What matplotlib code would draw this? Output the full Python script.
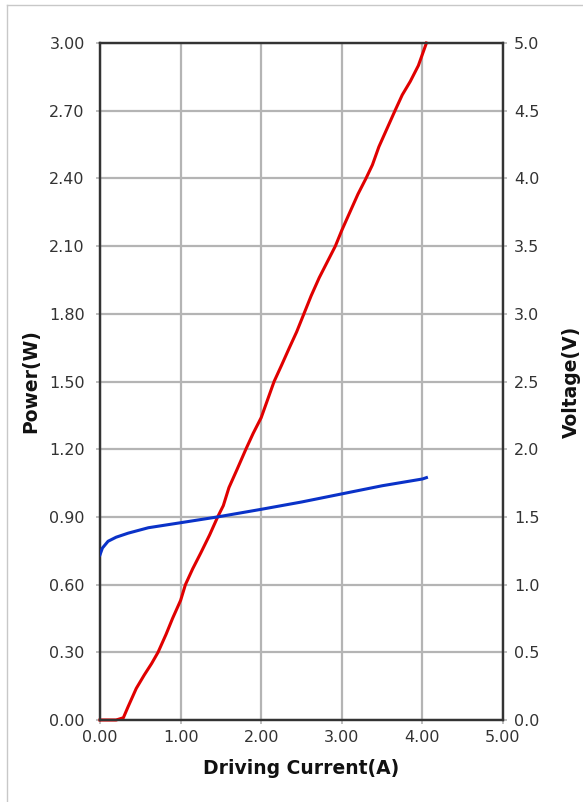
import matplotlib
matplotlib.use("Agg")
import matplotlib.pyplot as plt
from matplotlib.lines import Line2D

# Data
current_power = [0.0, 0.10, 0.20, 0.29, 0.35, 0.45, 0.55, 0.64, 0.72, 0.82, 0.90, 1.00,
                 1.06, 1.15, 1.25, 1.36, 1.46, 1.53, 1.60, 1.70, 1.81, 1.90, 2.00, 2.08,
                 2.16, 2.25, 2.35, 2.44, 2.53, 2.62, 2.72, 2.82, 2.92, 3.00, 3.10, 3.20,
                 3.30, 3.38, 3.46, 3.56, 3.66, 3.75, 3.85, 3.95, 4.00, 4.05]
power = [0.0, 0.0, 0.0, 0.01, 0.06, 0.14, 0.20, 0.25, 0.30, 0.38, 0.45, 0.53,
         0.60, 0.67, 0.74, 0.82, 0.90, 0.95, 1.03, 1.11, 1.20, 1.27, 1.34, 1.42,
         1.50, 1.57, 1.65, 1.72, 1.80, 1.88, 1.96, 2.03, 2.10, 2.17, 2.25, 2.33,
         2.40, 2.46, 2.54, 2.62, 2.70, 2.77, 2.83, 2.90, 2.95, 3.00]

current_voltage = [0.0, 0.03, 0.10, 0.20, 0.35, 0.60, 1.00, 1.46, 2.00, 2.50, 3.00, 3.50, 4.00, 4.05]
voltage = [1.22, 1.27, 1.32, 1.35, 1.38, 1.42, 1.457, 1.50, 1.556, 1.61, 1.67, 1.73, 1.78, 1.79]

x_ticks = [0, 1, 2, 3, 4, 5]
power_ticks = [0.0, 0.3, 0.6, 0.9, 1.2, 1.5, 1.8, 2.1, 2.4, 2.7, 3.0]
voltage_ticks = [0.0, 0.5, 1.0, 1.5, 2.0, 2.5, 3.0, 3.5, 4.0, 4.5, 5.0]

W, H = 583, 802
fig = plt.figure(figsize=(W / 100, H / 100), dpi=100)
ax = fig.add_axes([100 / W, 1 - 720 / H, 403 / W, 677 / H])
ax2 = ax.twinx()

grid_c = "#b4b4b4"
spine_c = "#333333"
tick_font = dict(family="DejaVu Sans", size=11.5, color="#333333")

ax.set_xlim(0, 5)
ax.set_ylim(0, 3.0)
ax2.set_ylim(0, 5.0)
ax.set_xticks(x_ticks)
ax.set_xticklabels([f"{v:.2f}" for v in x_ticks], **tick_font)
ax.set_yticks(power_ticks)
ax.set_yticklabels([f"{v:.2f}" for v in power_ticks], **tick_font)
ax2.set_yticks(voltage_ticks)
ax2.set_yticklabels([f"{v:.1f}" for v in voltage_ticks], **tick_font)

ax.grid(True, color=grid_c, linewidth=1.6)
ax.set_axisbelow(True)
for a in (ax, ax2):
    for s in a.spines.values():
        s.set_color(spine_c)
        s.set_linewidth(1.6)
ax.tick_params(axis="x", length=3, width=1.2, color=grid_c, pad=4)
ax.tick_params(axis="y", length=3, width=1.2, color=grid_c, pad=8)
ax2.tick_params(axis="y", length=3, width=1.2, color=grid_c, pad=5)

ax.plot(current_power, power, color="#e00000", linewidth=2.2, zorder=3, clip_on=False)
ax2.plot(current_voltage, voltage, color="#0a32c8", linewidth=2.2, zorder=3)

ax.set_xlabel("Driving Current(A)", family="DejaVu Sans", fontsize=13.5, fontweight="bold",
              color="#111111", labelpad=10)
ax.set_ylabel("Power(W)", family="DejaVu Sans", fontsize=13.5, fontweight="bold",
              color="#111111", labelpad=6)
ax2.set_ylabel("Voltage(V)", family="DejaVu Sans", fontsize=13.5, fontweight="bold",
               color="#111111", labelpad=16)

# light frame around the picture
fig.add_artist(Line2D([7 / W, 7 / W], [0, 1 - 5 / H], color="#c8c8c8", linewidth=1,
                      transform=fig.transFigure))
fig.add_artist(Line2D([7 / W, 1], [1 - 5 / H, 1 - 5 / H], color="#c8c8c8", linewidth=1,
                      transform=fig.transFigure))

fig.savefig("out.png", dpi=100)
